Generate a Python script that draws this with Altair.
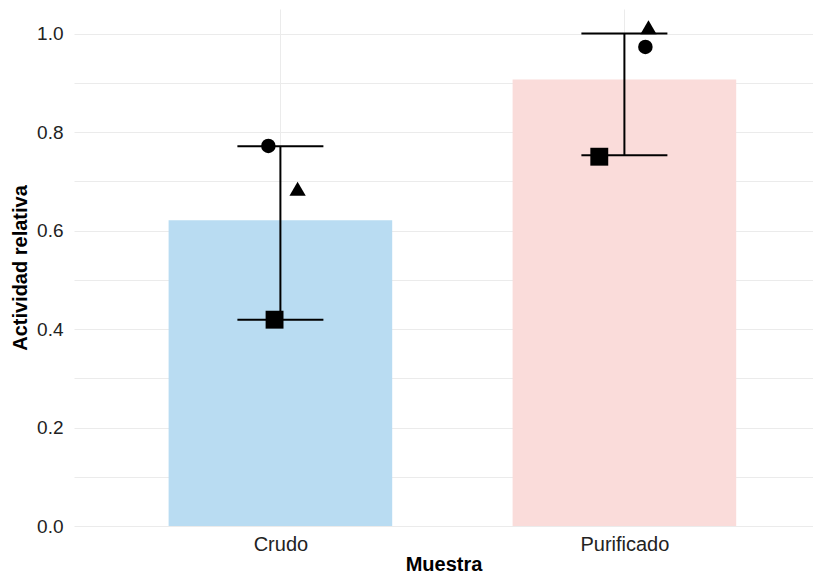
import altair as alt
import pandas as pd

# ---- data ----
categories = ["Crudo", "Purificado"]
bar_means = [0.621, 0.907]
err_low = [0.419, 0.753]
err_high = [0.771, 1.000]
bar_colors = ["#B9DCF2", "#FADCDA"]

replicates = ["R1", "R2", "R3"]
replicate_shapes = ["circle", "triangle-up", "square"]
point_values = {
    "Crudo": [0.772, 0.685, 0.419],
    "Purificado": [0.973, 1.013, 0.750],
}
point_jitter = {
    "Crudo": [-0.035, 0.050, -0.017],
    "Purificado": [0.061, 0.070, -0.073],
}

y_ticks = [round(i * 0.1, 1) for i in range(11)]

# ---- style constants ----
BAR_W = 0.65
CAP_W = 0.25
FONT = "Liberation Sans"
PLOT_W = 739
PLOT_H = 517

idx = {c: i + 1 for i, c in enumerate(categories)}

bars = pd.DataFrame({
    "Muestra": categories,
    "mean": bar_means,
    "x0": [idx[c] - BAR_W / 2 for c in categories],
    "x1": [idx[c] + BAR_W / 2 for c in categories],
})
err = pd.DataFrame({
    "Muestra": categories,
    "x": [idx[c] for c in categories],
    "lo": err_low,
    "hi": err_high,
})
caps = pd.DataFrame([
    {"Muestra": c, "y": v, "x0": idx[c] - CAP_W / 2, "x1": idx[c] + CAP_W / 2}
    for c, lo, hi in zip(categories, err_low, err_high) for v in (lo, hi)
])
pts = pd.DataFrame([
    {"Muestra": c, "rep": r, "val": v, "x": idx[c] + j}
    for c in categories
    for r, v, j in zip(replicates, point_values[c], point_jitter[c])
])

label_expr = "datum.value == 1 ? 'Crudo' : (datum.value == 2 ? 'Purificado' : '')"
x_scale = alt.Scale(domain=[0.4, 0.4 + PLOT_W / 344], nice=False, zero=False)
y_scale = alt.Scale(domain=[0, 1.05], nice=False)

x_axis = alt.Axis(values=[1, 2], labelExpr=label_expr, title="Muestra",
                  grid=True, gridColor="#EBEBEB", gridWidth=1,
                  domain=False, ticks=False, labelPadding=8,
                  labelFont=FONT, labelFontSize=20, labelColor="#222222",
                  titleFont=FONT, titleFontSize=20, titleFontWeight="bold",
                  titleColor="#000000", titlePadding=0)
y_axis = alt.Axis(values=y_ticks,
                  labelExpr="round(datum.value*10) % 2 == 0 ? format(datum.value, '.1f') : ''",
                  title="Actividad relativa",
                  grid=True, gridColor="#EBEBEB", gridWidth=1,
                  domain=False, ticks=False, labelPadding=11,
                  labelFont=FONT, labelFontSize=19, labelColor="#222222",
                  titleFont=FONT, titleFontSize=20, titleFontWeight="bold",
                  titleColor="#000000", titlePadding=6)

bar_layer = alt.Chart(bars).mark_rect().encode(
    x=alt.X("x0:Q", scale=x_scale, axis=x_axis),
    x2="x1:Q",
    y=alt.Y("mean:Q", scale=y_scale, axis=y_axis),
    y2=alt.datum(0),
    color=alt.Color("Muestra:N", scale=alt.Scale(domain=categories, range=bar_colors), legend=None),
)

vline = alt.Chart(err).mark_rule(color="black", strokeWidth=2).encode(
    x="x:Q", y="lo:Q", y2="hi:Q"
)
cap_layer = alt.Chart(caps).mark_rule(color="black", strokeWidth=2).encode(
    x="x0:Q", x2="x1:Q", y="y:Q"
)
point_layer = alt.Chart(pts).mark_point(filled=True, color="black", opacity=1).encode(
    x="x:Q", y="val:Q",
    shape=alt.Shape("rep:N", scale=alt.Scale(domain=replicates, range=replicate_shapes), legend=None),
    size=alt.Size("rep:N", scale=alt.Scale(domain=replicates, range=[210, 320, 210]), legend=None),
)

chart = alt.layer(bar_layer, vline, cap_layer, point_layer).properties(
    width=PLOT_W, height=PLOT_H,
    autosize=alt.AutoSizeParams(type="none"),
    padding={"left": 66, "top": 1, "right": 0, "bottom": 48},
).configure(background="white").configure_view(strokeWidth=0)

chart.save("out.html", embed_options={"renderer": "svg", "actions": False})
